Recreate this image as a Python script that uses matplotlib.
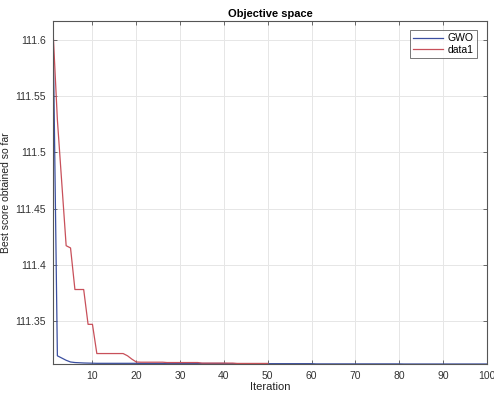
import numpy as np
import matplotlib
matplotlib.use("Agg")
import matplotlib.pyplot as plt

# Data
gwo_iter = list(range(1, 101))
gwo_vals = [111.617, 111.319, 111.317, 111.315, 111.3135, 111.313, 111.3128, 111.3126, 111.3125, 111.3124] + \
           [111.3123] * 10 + [111.3122] * 20 + [111.3120] * 20 + [111.3118] * 20 + [111.3117] * 20

red_iter = list(range(1, 51))
red_vals = [111.609, 111.529, 111.473, 111.417, 111.415, 111.378, 111.378, 111.378, 111.347, 111.347,
            111.321, 111.321, 111.321, 111.321, 111.321, 111.321, 111.321, 111.319, 111.316, 111.3135] + \
           [111.3133] * 6 + [111.3130] * 8 + [111.3125] * 8 + [111.3122] * 8

xticks = [10, 20, 30, 40, 50, 60, 70, 80, 90, 100]
yticks = [111.35, 111.4, 111.45, 111.5, 111.55, 111.6]
ytick_labels = ["111.35", "111.4", "111.45", "111.5", "111.55", "111.6"]
series_names = ["GWO", "data1"]

plt.rcParams['font.family'] = ['Liberation Sans', 'DejaVu Sans']

fig = plt.figure(figsize=(4.94, 3.94), dpi=100)
ax = fig.add_axes([53/494, 1 - 364/394, (487-53)/494, (364-21)/394])

ax.plot(gwo_iter, gwo_vals, color='#3b4fa0', lw=0.9, label=series_names[0])
ax.plot(red_iter, red_vals, color='#c8505a', lw=0.9, label=series_names[1])

ax.set_xlim(1, 100)
ax.set_ylim(111.3117, 111.617)
ax.set_xticks(xticks)
ax.set_yticks(yticks)
ax.set_yticklabels(ytick_labels)
ax.grid(True, color='#e6e6e6', lw=0.7)
ax.set_axisbelow(True)
ax.tick_params(direction='in', top=True, right=True, length=3, width=0.6,
               labelsize=7.5, colors='#555555', labelcolor='#333333', pad=5)
for s in ax.spines.values():
    s.set_color('#555555')
    s.set_linewidth(0.8)

ax.set_title("Objective space", fontsize=8, fontweight='bold', pad=3)
ax.set_xlabel("Iteration", fontsize=8, labelpad=1, color='#222222')
ax.set_ylabel("Best score obtained so far", fontsize=7.5, color='#222222')
ax.yaxis.set_label_coords(-0.096, 0.5)

leg = ax.legend(loc='upper right', fontsize=7.5, frameon=True, fancybox=False,
                edgecolor='#555555', borderpad=0.35, handlelength=2.8,
                handletextpad=0.5, bbox_to_anchor=(0.99, 0.99), labelspacing=0.15)
leg.get_frame().set_linewidth(0.7)

fig.savefig("out.png", dpi=100)
